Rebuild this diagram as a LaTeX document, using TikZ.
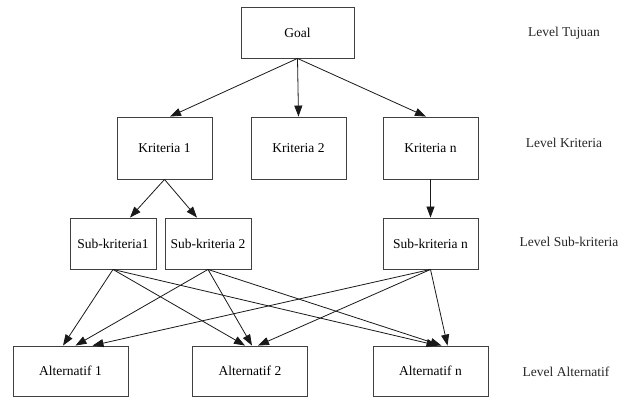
\documentclass[tikz,border=0pt]{standalone}
\usepackage{fontspec}
\setmainfont{Liberation Serif}
\usepackage{tikz}
\usetikzlibrary{arrows.meta,positioning}

\begin{document}
\begin{tikzpicture}[
        x=1pt, y=-1pt,
        font=\fontsize{13.5}{15}\selectfont,
        box/.style={rectangle, draw=black!75, line width=0.9pt, inner sep=0pt,
                    minimum width=#1, align=center},
        goalbox/.style={box=113pt, minimum height=51pt},
        kritbox/.style={box=95pt, minimum height=62pt},
        subbox/.style={box=#1, minimum height=51pt},
        altbox/.style={box=115pt, minimum height=50pt},
        lvl/.style={text=black!85},
        a/.style={-{Triangle[length=11pt, width=8pt]}, line width=0.8pt, draw=black!90}
    ]
        \useasboundingbox (0,0) rectangle (619,397);

        \node[goalbox] (goal) at (297.5,32.5) {Goal};

        \node[kritbox] (k1) at (164.5,148) {Kriteria 1};
        \node[kritbox] (k2) at (298.5,148) {Kriteria 2};
        \node[kritbox] (kn) at (430.5,148) {Kriteria n};

        \node[subbox=86pt] (s1) at (113,243.5) {Sub-kriteria1};
        \node[subbox=86pt] (s2) at (208,243.5) {Sub-kriteria 2};
        \node[subbox=95pt] (sn) at (430.5,243.5) {Sub-kriteria n};

        \node[altbox] (a1) at (70.5,371) {Alternatif 1};
        \node[altbox] (a2) at (250,371) {Alternatif 2};
        \node[altbox] (an) at (430.5,371) {Alternatif n};

        \node[lvl] (ltuj) at (564,33) {Level Tujuan};
        \node[lvl] (lkrit) at (564,143) {Level Kriteria};
        \node[lvl] (lsub) at (569,242) {Level Sub-kriteria};
        \node[lvl] (lalt) at (566,372) {Level Alternatif};

        \draw[a] (goal.south) -- ([xshift=5.5pt]k1.north);
        \draw[a] (goal.south) -- (k2.north);
        \draw[a] (goal.south) -- ([xshift=-4.5pt]kn.north);

        \draw[a] (k1.south) -- ([xshift=17pt]s1.north);
        \draw[a] (k1.south) -- ([xshift=-11pt]s2.north);
        \draw[a] (kn.south) -- (sn.north);

        \draw[a] (s1.south) -- ([xshift=-7.5pt]a1.north);
        \draw[a] (s1.south) -- ([xshift=-5pt]a2.north);
        \draw[a] (s1.south) -- ([xshift=7pt]an.north);
        \draw[a] (s2.south) -- ([xshift=5pt]a1.north);
        \draw[a] (s2.south) -- ([xshift=2pt]a2.north);
        \draw[a] (s2.south) -- ([xshift=11pt]an.north);
        \draw[a] (sn.south) -- ([xshift=22pt]a1.north);
        \draw[a] (sn.south) -- ([xshift=8pt]a2.north);
        \draw[a] (sn.south) -- ([xshift=17pt]an.north);
    \end{tikzpicture}
\end{document}
